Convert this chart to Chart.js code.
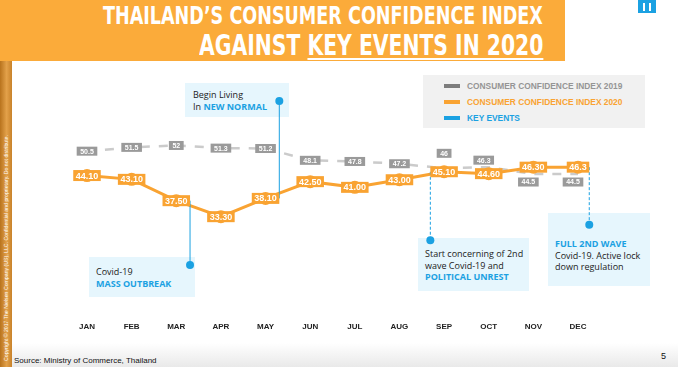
<!DOCTYPE html>
<html>
<head>
<meta charset="utf-8">
<script src="https://cdn.jsdelivr.net/npm/chart.js@4"></script>
<style>
  body { margin: 0; width: 678px; height: 367px; overflow: hidden; background: #fff; position: relative; font-family: "Liberation Sans", Arial, sans-serif; }
  #banner { position: absolute; left: 0; top: 0; width: 565px; height: 61px; background: #fbab3a; }
  .ttl { position: absolute; right: 135px; white-space: nowrap; color: #fff; font-family: "Liberation Sans Narrow", "DejaVu Sans Condensed", "Liberation Sans", sans-serif; font-weight: bold; transform-origin: right center; display: inline-block; }
  #t1 { top: 3px; font-size: 25px; line-height: 26px; }
  #t2 { top: 31px; font-size: 28px; line-height: 29px; }
  #t2 u { text-decoration-thickness: 2px; text-underline-offset: 3px; }
  #icon { position: absolute; left: 638px; top: 0; width: 18px; height: 13px; background: #1ba1e2; }
  #icon i { position: absolute; top: 3px; width: 2px; height: 8px; background: #fff; }
  #strip { position: absolute; left: 0; top: 61px; width: 12px; height: 306px; background: linear-gradient(to right, #b8731d, #e3a14a 55%, #c8822a); }
  #strip div { position: absolute; left: 3px; top: 300px; transform: rotate(-90deg); transform-origin: 0 0; white-space: nowrap; color: #fff; font-size: 5.2px; line-height: 6px; }
  #foot { position: absolute; left: 12px; top: 343px; width: 666px; height: 24px; background: linear-gradient(#fff, #e9e9e9); }
  #source { position: absolute; left: 14px; top: 356px; font-size: 8px; color: #111; }
  #page { position: absolute; left: 661px; top: 351px; font-size: 9px; color: #111; }
  #legend { position: absolute; left: 423px; top: 75px; width: 222px; height: 53px; background: #f1f1f1; }
  .li { position: absolute; left: 21px; font-size: 8.4px; font-weight: bold; white-space: nowrap; line-height: 10px; }
  .li span { position: absolute; left: 0; top: 3px; width: 16px; height: 4px; }
  .li b { margin-left: 23px; }
  .note { position: absolute; background: #e6f6fd; font-family: "Open Sans", "Noto Sans", sans-serif; font-size: 9px; color: #222; line-height: 11.5px; white-space: nowrap; box-sizing: border-box; }
  .note b { color: #1ba1e2; }
  #chartBox { position: absolute; left: 0; top: 0; width: 678px; height: 367px; }
</style>
</head>
<body>
<div id="banner"></div>
<div class="ttl" id="t1">THAILAND’S CONSUMER CONFIDENCE INDEX</div>
<div class="ttl" id="t2">AGAINST <u>KEY EVENTS IN 2020</u></div>
<div id="icon"><i style="left:5px"></i><i style="left:11px"></i></div>
<div id="strip"><div>Copyright © 2017 The Nielsen Company (US), LLC. Confidential and proprietary. Do not distribute.</div></div>
<div id="foot"></div>
<div id="source">Source: Ministry of Commerce, Thailand</div>
<div id="page">5</div>

<div id="legend">
  <div class="li" style="top:6px;color:#959595"><span style="background:#7d7d7d"></span><b>CONSUMER CONFIDENCE INDEX 2019</b></div>
  <div class="li" style="top:22px;color:#f9a332"><span style="background:#f9a332"></span><b>CONSUMER CONFIDENCE INDEX 2020</b></div>
  <div class="li" style="top:38px;color:#1ba1e2"><span style="background:#1ba1e2"></span><b>KEY EVENTS</b></div>
</div>

<div class="note" style="left:185px;top:83px;width:104px;height:34px;padding:6px 0 0 8px">Begin Living<br>In <b>NEW NORMAL</b></div>
<div class="note" style="left:89px;top:257px;width:106px;height:40px;padding:9px 0 0 7px">Covid-19<br><b>MASS OUTBREAK</b></div>
<div class="note" style="left:418px;top:238px;width:111px;height:53px;padding:10px 0 0 7px">Start concerning of 2nd<br>wave Covid-19 and<br><b>POLITICAL UNREST</b></div>
<div class="note" style="left:548px;top:213px;width:102px;height:73px;padding:25px 0 0 7px"><b>FULL 2ND WAVE</b><br>Covid-19. Active lock<br>down regulation</div>

<div id="chartBox"><canvas id="myChart" width="678" height="367"></canvas></div>

<script>
// fit the title lines to the banner width
[['t1', 440], ['t2', 344]].forEach(function (t) {
  var el = document.getElementById(t[0]);
  el.style.transform = 'scaleX(' + (t[1] / el.offsetWidth) + ')';
});

var months = ['JAN', 'FEB', 'MAR', 'APR', 'MAY', 'JUN', 'JUL', 'AUG', 'SEP', 'OCT', 'NOV', 'DEC'];
var cci2019 = [50.5, 51.5, 52, 51.3, 51.2, 48.1, 47.8, 47.2, 46, 46.3, 44.5, 44.5];
var cci2020 = [44.1, 43.1, 37.5, 33.3, 38.1, 42.5, 41.0, 43.0, 45.1, 44.6, 46.3, 46.3];
var text2019 = ['50.5', '51.5', '52', '51.3', '51.2', '48.1', '47.8', '47.2', '46', '46.3', '44.5', '44.5'];
var text2020 = ['44.10', '43.10', '37.50', '33.30', '38.10', '42.50', '41.00', '43.00', '45.10', '44.60', '46.30', '46.3'];
var keyEvents = ['MAR', 'MAY', 'SEP', 'DEC'];

var orange = '#f9a332';
var blue = '#1ba1e2';

var valueBoxes = {
  id: 'valueBoxes',
  afterDatasetsDraw: function (chart, args, opts) {
    var c = chart.ctx;
    var xs = chart.scales.x, ys = chart.scales.y;
    var meta20 = chart.getDatasetMeta(0);
    var meta19 = chart.getDatasetMeta(1);

    c.save();
    c.font = 'bold 9px "Liberation Sans", Arial, sans-serif';
    // key event lines hang off the edge of the 2020 value box
    keyEvents.forEach(function (m, i) {
      var ev = opts.events[i];
      var idx = months.indexOf(m);
      var half = (c.measureText(text2020[idx]).width + 5) / 2;
      var x = xs.getPixelForValue(idx) + (ev.side === 'right' ? half : -half);
      var yp = ys.getPixelForValue(cci2020[idx]);
      var yd = ys.getPixelForValue(ev.dot);
      c.strokeStyle = blue;
      c.lineWidth = 1;
      c.setLineDash(ev.dash);
      c.beginPath();
      c.moveTo(x, yp);
      c.lineTo(x, yd);
      c.stroke();
      c.setLineDash([]);
      c.fillStyle = blue;
      c.beginPath();
      c.arc(x, yd, 4, 0, Math.PI * 2);
      c.fill();
    });

    c.textAlign = 'center';
    c.textBaseline = 'middle';
    // 2019 boxes
    c.font = 'bold 7px "Liberation Sans", Arial, sans-serif';
    meta19.data.forEach(function (pt, i) {
      var off = opts.offsets2019[i];
      var x = pt.x + off[0], y = pt.y + off[1];
      var w = c.measureText(text2019[i]).width + 7;
      c.fillStyle = '#9a9a9a';
      c.fillRect(x - w / 2, y - 4.5, w, 9);
      c.fillStyle = '#fff';
      c.fillText(text2019[i], x, y + 0.5);
    });
    // 2020 boxes
    c.font = 'bold 9px "Liberation Sans", Arial, sans-serif';
    meta20.data.forEach(function (pt, i) {
      var w = c.measureText(text2020[i]).width + 5;
      c.fillStyle = orange;
      c.fillRect(pt.x - w / 2, pt.y - 5.5, w, 11);
      c.fillStyle = '#fff';
      c.fillText(text2020[i], pt.x, pt.y + 0.5);
    });
    c.restore();
  }
};

var ctx = document.getElementById('myChart');
var myChart = new Chart(ctx, {
  type: 'line',
  data: {
    labels: months,
    datasets: [
      {
        label: 'CONSUMER CONFIDENCE INDEX 2020',
        data: cci2020,
        borderColor: orange,
        backgroundColor: orange,
        borderWidth: 3,
        pointRadius: 6.5,
        pointBorderWidth: 0,
        pointBackgroundColor: orange,
        fill: false,
        tension: 0,
        order: 0
      },
      {
        label: 'CONSUMER CONFIDENCE INDEX 2019',
        data: cci2019,
        borderColor: '#cbcbcb',
        borderWidth: 2.5,
        borderDash: [9, 9],
        pointRadius: 0,
        fill: false,
        tension: 0,
        order: 1
      }
    ]
  },
  options: {
    responsive: false,
    animation: false,
    layout: { padding: { left: 87, right: 100, top: 115, bottom: 18 } },
    plugins: {
      legend: { display: false },
      tooltip: { enabled: false },
      valueBoxes: {
        offsets2019: [[0, 0], [0, 0], [0, 0], [0, 0], [0, 0], [0, 0], [0, 0], [0, 0],
                      [0, -15], [-5, -7], [-5, 8], [-5, 8]],
        events: [
          { dot: 20.6, side: 'right', dash: [] },
          { dot: 63.7, side: 'right', dash: [] },
          { dot: 27.1, side: 'left', dash: [3, 2] },
          { dot: 31.2, side: 'right', dash: [3, 2] }
        ]
      }
    },
    scales: {
      x: {
        offset: false,
        grid: { display: false, drawTicks: false },
        border: { display: false },
        ticks: {
          padding: 17,
          color: '#222',
          autoSkip: false,
          maxRotation: 0,
          font: { family: '"Liberation Sans", Arial, sans-serif', weight: 'bold', size: 8 }
        }
      },
      y: { display: false, min: 10, max: 60 }
    }
  },
  plugins: [valueBoxes]
});
</script>
</body>
</html>
